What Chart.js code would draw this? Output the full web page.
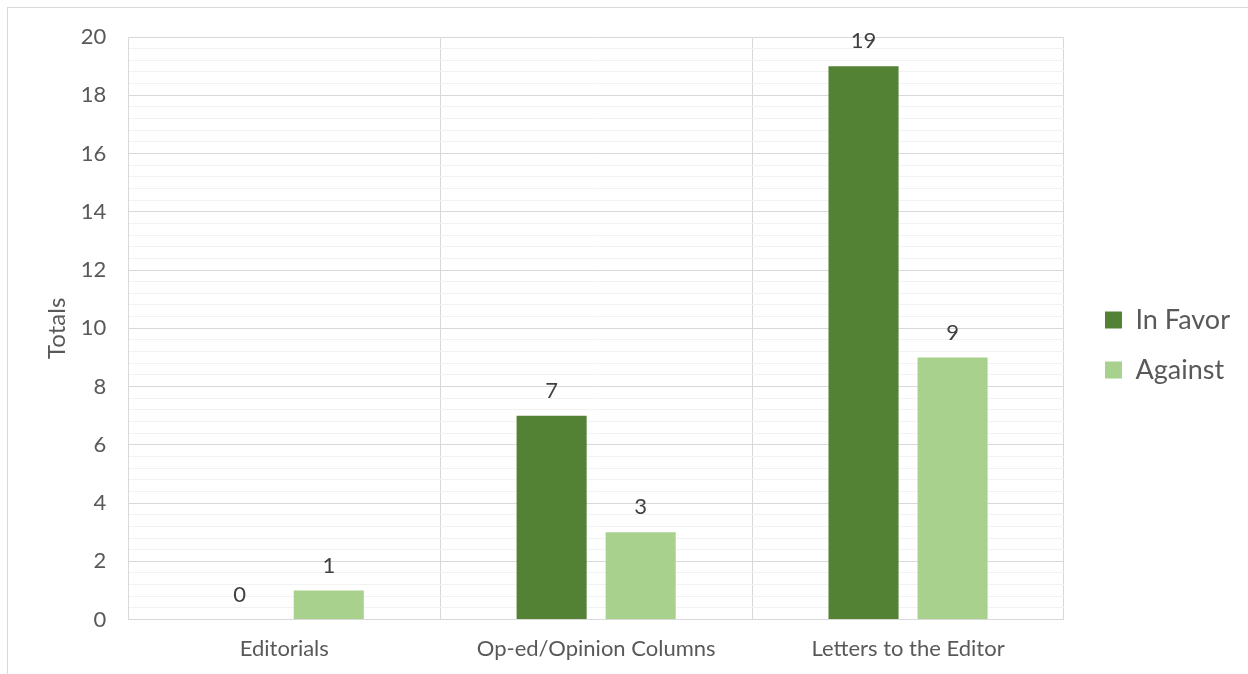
<!DOCTYPE html>
<html>
<head>
<meta charset="utf-8">
<script src="https://cdn.jsdelivr.net/npm/chart.js@4"></script>
<style>
  body { margin: 0; background: #fff; }
  #wrap { width: 1248px; height: 674px; position: relative; }
</style>
</head>
<body>
<div id="wrap"><canvas id="totalsChart"></canvas></div>
<script>
const categories = ['Editorials', 'Op-ed/Opinion Columns', 'Letters to the Editor'];
const inFavor = [0, 7, 19];
const against = [1, 3, 9];
const seriesNames = ['In Favor', 'Against'];
const yMax = 20;
const majorStep = 2;
const minorStep = 0.4;

const FONT = 'Lato, "Open Sans", sans-serif';
const TEXT = '#595959';

function isMajor(v) {
  return Math.round(v * 10) % Math.round(majorStep * 10) === 0;
}

// light frame around the chart
const framePlugin = {
  id: 'frame',
  beforeDraw(c) {
    const ctx = c.ctx;
    ctx.save();
    ctx.strokeStyle = '#d9d9d9';
    ctx.lineWidth = 1;
    ctx.strokeRect(7.5, 7.5, 2000, 2000);
    ctx.restore();
  }
};

// value above each bar
const valueLabels = {
  id: 'valueLabels',
  afterDatasetsDraw(c) {
    const ctx = c.ctx;
    ctx.save();
    ctx.font = '22px ' + FONT;
    ctx.fillStyle = '#404040';
    ctx.textAlign = 'center';
    ctx.textBaseline = 'middle';
    c.data.datasets.forEach((ds, i) => {
      c.getDatasetMeta(i).data.forEach((bar, j) => {
        ctx.fillText(String(ds.data[j]), bar.x, bar.y - 25);
      });
    });
    ctx.restore();
  }
};

// nudge legend away from the plot
const legendShift = {
  id: 'legendShift',
  afterLayout(c) {
    const lg = c.legend;
    lg.left += 18; lg.right += 18;
    lg.top -= 12.5; lg.bottom -= 12.5;
  }
};

let chart;
document.addEventListener('DOMContentLoaded', function() {
  const ctx = document.getElementById('totalsChart').getContext('2d');
  chart = new Chart(ctx, {
    type: 'bar',
    data: {
      labels: categories,
      datasets: [
        { label: seriesNames[0], data: inFavor, backgroundColor: '#548235' },
        { label: seriesNames[1], data: against, backgroundColor: '#a9d18e' }
      ]
    },
    options: {
      responsive: true,
      maintainAspectRatio: false,
      animation: false,
      devicePixelRatio: 1,
      layout: { padding: { left: 39, right: 26, top: 37, bottom: -4 } },
      datasets: { bar: { categoryPercentage: 0.571, barPercentage: 0.787 } },
      plugins: {
        tooltip: { enabled: false },
        legend: {
          position: 'right',
          labels: {
            color: TEXT,
            font: { family: FONT, size: 27 },
            boxWidth: 17,
            boxHeight: 17,
            padding: 23
          }
        }
      },
      scales: {
        x: {
          grid: { color: '#d9d9d9', drawTicks: false, offset: true },
          border: { color: '#d9d9d9' },
          ticks: { color: TEXT, font: { family: FONT, size: 22 }, padding: 16 }
        },
        y: {
          min: 0,
          max: yMax,
          grid: {
            drawTicks: false,
            color: c => (c.tick && isMajor(c.tick.value)) ? '#d9d9d9' : '#f2f2f2'
          },
          border: { color: '#d9d9d9' },
          ticks: {
            stepSize: minorStep,
            autoSkip: false,
            color: TEXT,
            font: { family: FONT, size: 22 },
            padding: 22,
            callback: v => isMajor(v) ? Math.round(v) : ''
          },
          title: {
            display: true,
            text: 'Totals',
            color: TEXT,
            font: { family: FONT, size: 24 },
            padding: { top: 4, bottom: -13 }
          }
        }
      }
    },
    plugins: [framePlugin, valueLabels, legendShift]
  });
});
</script>
</body>
</html>
